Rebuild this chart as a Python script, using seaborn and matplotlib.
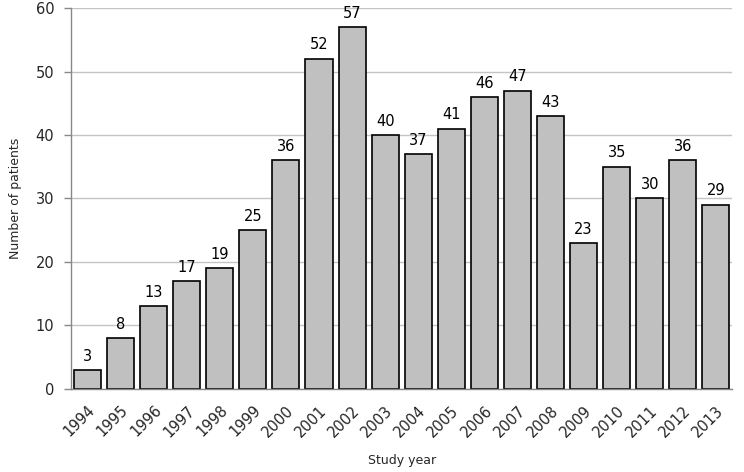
#!/usr/bin/env python
# coding: utf-8

"""
Patients per study year, 1994-2013
"""

import pandas as pd
import numpy as np
import matplotlib
matplotlib.use("Agg")
import matplotlib.pyplot as plt
import seaborn as sns

years = [str(y) for y in range(1994, 2014)]
patients = [3, 8, 13, 17, 19, 25, 36, 52, 57, 40, 37, 41, 46, 47, 43, 23, 35, 30, 36, 29]
y_ticks = [0, 10, 20, 30, 40, 50, 60]

sns.set_style("white")
plt.rcParams['font.family'] = ['DejaVu Sans']


def main():
    df = pd.DataFrame({'Year': years, 'Patients': patients})

    fig = plt.figure(figsize=(7.44, 4.72), dpi=100)
    ax = fig.add_axes([0.0954, 0.176, 0.889, 0.807])

    sns.barplot(data=df, x='Year', y='Patients', color='#C0C0C0',
                edgecolor='black', linewidth=1.2, width=0.82, saturation=1, ax=ax)

    # value labels above each bar
    for i, v in enumerate(patients):
        ax.text(i, v + 1.0, str(v), ha='center', va='bottom', fontsize=10.5, color='black')

    ax.set_ylim(0, 60)
    ax.set_xlim(-0.5, len(years) - 0.5)
    ax.set_yticks(y_ticks)
    ax.yaxis.grid(True, color='#C4C4C4', linewidth=1.0)
    ax.set_axisbelow(True)

    # tick marks between categories, labels centered under bars
    ax.set_xticks(np.arange(-0.5, len(years)), minor=True)
    ax.tick_params(axis='x', which='major', length=0, pad=10)
    ax.tick_params(axis='x', which='minor', length=5, color='#888888', width=1)
    ax.tick_params(axis='y', length=5, color='#888888', width=1, left=True,
                   labelsize=10.5, pad=7)
    plt.setp(ax.get_xticklabels(), rotation=45, ha='right', rotation_mode='anchor', fontsize=10.5)

    for side in ['top', 'right']:
        ax.spines[side].set_visible(False)
    for side in ['left', 'bottom']:
        ax.spines[side].set_color('#888888')
        ax.spines[side].set_linewidth(1)

    ax.set_xlabel('Study year', fontsize=9, labelpad=10)
    ax.set_ylabel('Number of patients', fontsize=9, labelpad=10)

    plt.savefig('out.png', dpi=100)
    plt.close()


if __name__ == "__main__":
    main()
